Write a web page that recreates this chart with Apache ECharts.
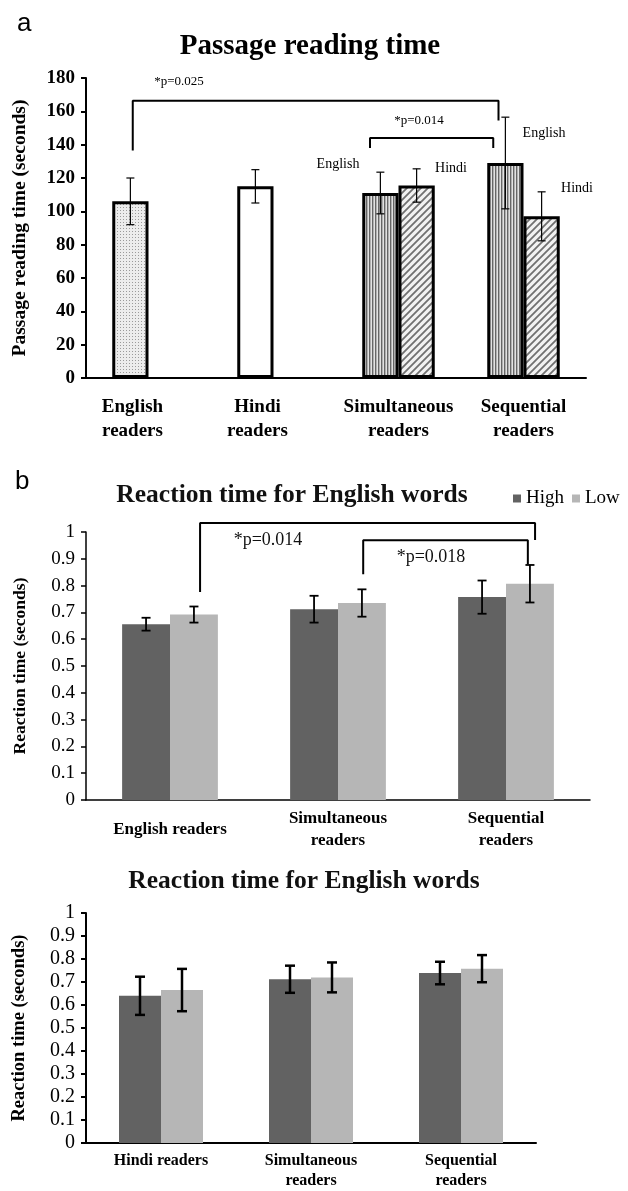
<!DOCTYPE html>
<html>
<head>
<meta charset="utf-8">
<script src="https://cdn.jsdelivr.net/npm/echarts@6/dist/echarts.min.js"></script>
<style>
  html, body { margin: 0; padding: 0; background: #fff; }
  #main { width: 628px; height: 1191px; }
</style>
</head>
<body>
<div id="main"></div>
<script>
// ---- panel a: passage reading time (seconds)
const groupsA = ['English\nreaders', 'Hindi\nreaders', 'Simultaneous\nreaders', 'Sequential\nreaders'];
const firstA = [106, 115, 111, 129];      // English text (or the group's only text)
const firstErrA = [14, 10, 12.5, 27.5];
const hindiA = [null, null, 115.5, 97];
const hindiErrA = [null, null, 10, 14.7];

// ---- panel b (top): reaction time, English readers vs bilinguals
const groupsB1 = ['English readers', 'Simultaneous\nreaders', 'Sequential\nreaders'];
const highB1 = [0.656, 0.712, 0.757];
const highErrB1 = [0.024, 0.05, 0.062];
const lowB1 = [0.692, 0.735, 0.807];
const lowErrB1 = [0.03, 0.051, 0.07];

// ---- panel b (bottom): reaction time, Hindi readers vs bilinguals
const groupsB2 = ['Hindi readers', 'Simultaneous\nreaders', 'Sequential\nreaders'];
const highB2 = [0.64, 0.712, 0.739];
const highErrB2 = [0.083, 0.059, 0.049];
const lowB2 = [0.665, 0.72, 0.758];
const lowErrB2 = [0.092, 0.065, 0.059];

// significance brackets: [xLeft, xRight (category units), yTop, yLeftEnd, yRightEnd]
const bracketsA = [
    [0.374, 3.30, 166.4, 136.5, 154.5],
    [2.272, 3.258, 144, 138, 138]
];
const bracketsB1 = [
    [0.679, 2.673, 1.034, 0.776, 0.97],
    [1.65, 2.63, 0.969, 0.842, 0.88]
];

const serif = 'Liberation Serif';

// fill patterns for panel a
function makePattern(w, h, draw) {
    const c = document.createElement('canvas');
    c.width = w; c.height = h;
    draw(c.getContext('2d'));
    return { image: c, repeat: 'repeat' };
}
const dotFill = makePattern(3, 3, (ctx) => {
    ctx.fillStyle = '#ececec'; ctx.fillRect(0, 0, 3, 3);
    ctx.fillStyle = '#9a9a9a'; ctx.fillRect(0, 0, 1, 1);
});
const stripeFill = makePattern(3, 4, (ctx) => {
    ctx.fillStyle = '#e2e2e2'; ctx.fillRect(0, 0, 3, 4);
    ctx.fillStyle = '#666666'; ctx.fillRect(0, 0, 1.4, 4);
});
const hatchFill = makePattern(7, 7, (ctx) => {
    ctx.fillStyle = '#f2f2f2'; ctx.fillRect(0, 0, 7, 7);
    ctx.strokeStyle = '#707070'; ctx.lineWidth = 1.8;
    ctx.beginPath();
    ctx.moveTo(-1, 8); ctx.lineTo(8, -1);
    ctx.moveTo(-4, 4); ctx.lineTo(4, -4);
    ctx.moveTo(3, 11); ctx.lineTo(11, 3);
    ctx.stroke();
});
const firstFills = [dotFill, '#ffffff', stripeFill, stripeFill];

// error bars drawn at the bar slot (0 = left, 1 = right) of a 2-bar cluster
function errorBars(axis, means, errs, slot, gap, capHalf, lw) {
    const data = [];
    means.forEach((m, i) => {
        if (m != null) data.push([i, m - errs[i], m + errs[i]]);
    });
    return {
        type: 'custom',
        xAxisIndex: axis,
        yAxisIndex: axis,
        z: 5,
        silent: true,
        data: data,
        renderItem: function (params, api) {
            const lo = api.coord([api.value(0), api.value(1)]);
            const hi = api.coord([api.value(0), api.value(2)]);
            const bw = api.size([1, 0])[0] * (1 - gap) / 2;
            const x = lo[0] + (slot - 0.5) * bw;
            const st = { stroke: '#000', lineWidth: lw };
            return {
                type: 'group',
                children: [
                    { type: 'line', shape: { x1: x, y1: lo[1], x2: x, y2: hi[1] }, style: st },
                    { type: 'line', shape: { x1: x - capHalf, y1: lo[1], x2: x + capHalf, y2: lo[1] }, style: st },
                    { type: 'line', shape: { x1: x - capHalf, y1: hi[1], x2: x + capHalf, y2: hi[1] }, style: st }
                ]
            };
        }
    };
}

function bracketSeries(xAxis, yAxis, b) {
    return {
        type: 'line',
        xAxisIndex: xAxis,
        yAxisIndex: yAxis,
        data: [[b[0], b[3]], [b[0], b[2]], [b[1], b[2]], [b[1], b[4]]],
        symbol: 'none',
        clip: false,
        silent: true,
        lineStyle: { color: '#000', width: 2 },
        z: 6
    };
}

function catAxis(grid, data, lw, fontSize, lineHeight, margin, valign) {
    return {
        type: 'category',
        gridIndex: grid,
        data: data,
        axisLine: { lineStyle: { color: '#000', width: lw } },
        axisTick: { length: 6, lineStyle: { color: '#000', width: lw } },
        axisLabel: {
            interval: 0,
            color: '#000', fontFamily: serif, fontWeight: 'bold',
            fontSize: fontSize, lineHeight: lineHeight, margin: margin,
            verticalAlign: valign
        }
    };
}

function valAxis(grid, max, interval, name, nameSize, labelSize, labelWeight, lw, nameGap) {
    return {
        type: 'value',
        gridIndex: grid,
        min: 0, max: max, interval: interval,
        name: name,
        nameLocation: 'middle',
        nameGap: nameGap,
        nameTextStyle: { color: '#000', fontFamily: serif, fontWeight: 'bold', fontSize: nameSize },
        splitLine: { show: false },
        axisLine: { show: true, lineStyle: { color: '#000', width: lw } },
        axisTick: { show: true, length: 5, lineStyle: { color: '#000', width: lw } },
        axisLabel: { color: '#000', fontFamily: serif, fontSize: labelSize, fontWeight: labelWeight, margin: 11 }
    };
}

const chartDom = document.getElementById('main');
const myChart = echarts.init(chartDom, null, { renderer: 'canvas' });

const gapA = 0.42, gapB1 = 0.43, gapB2 = 0.44;

// the two single-bar groups of panel a carry their label under the bar
const xAxisA = catAxis(0, groupsA, 2, 19, 24, 17, 'top');
xAxisA.data = groupsA.map((g, i) => i < 2
    ? { value: g, textStyle: { padding: [0, 32, 0, 0] } }
    : g);

const option = {
    animation: false,
    backgroundColor: '#fff',
    title: [
        { text: 'a', left: 12, top: 6, textStyle: { fontFamily: 'Liberation Sans', fontSize: 26, fontWeight: 'normal', color: '#000' } },
        { text: 'Passage reading time', left: 305, top: 27, textAlign: 'center',
          textStyle: { fontFamily: serif, fontSize: 29, fontWeight: 'bold', color: '#000' } },
        { text: 'b', left: 10, top: 464, textStyle: { fontFamily: 'Liberation Sans', fontSize: 26, fontWeight: 'normal', color: '#000' } },
        { text: 'Reaction time for English words', left: 287, top: 477, textAlign: 'center',
          textStyle: { fontFamily: serif, fontSize: 25.5, fontWeight: 'bold', color: '#111' } },
        { text: 'Reaction time for English words', left: 299, top: 863, textAlign: 'center',
          textStyle: { fontFamily: serif, fontSize: 25.5, fontWeight: 'bold', color: '#111' } }
    ],
    legend: {
        data: ['High', 'Low'],
        left: 508, top: 484,
        icon: 'rect', itemWidth: 8, itemHeight: 8, itemGap: 8,
        selectedMode: false,
        textStyle: { fontFamily: serif, fontSize: 19, color: '#000' }
    },
    grid: [
        { left: 86, top: 78, width: 500, height: 300 },
        { left: 86, top: 532, width: 504, height: 268 },
        { left: 86, top: 913, width: 450, height: 234 }
    ],
    xAxis: [
        xAxisA,
        catAxis(1, groupsB1, 1.5, 17, 22, 30, 'middle'),
        catAxis(2, groupsB2, 2, 16, 20, 8, 'top'),
        { type: 'value', gridIndex: 0, min: 0, max: 4, show: false },
        { type: 'value', gridIndex: 1, min: 0, max: 3, show: false }
    ],
    yAxis: [
        valAxis(0, 180, 20, 'Passage reading time (seconds)', 19.5, 19, 'bold', 2, 56),
        valAxis(1, 1, 0.1, 'Reaction time (seconds)', 17.5, 19, 'normal', 1.5, 57),
        valAxis(2, 1, 0.1, 'Reaction time (seconds)', 18.5, 20, 'normal', 2, 57)
    ],
    graphic: [
        { type: 'text', x: 179, y: 82, style: { text: '*p=0.025', font: '13px ' + serif, fill: '#000', align: 'center', verticalAlign: 'middle' } },
        { type: 'text', x: 419, y: 121, style: { text: '*p=0.014', font: '13px ' + serif, fill: '#000', align: 'center', verticalAlign: 'middle' } },
        { type: 'text', x: 338, y: 164, style: { text: 'English', font: '14px ' + serif, fill: '#000', align: 'center', verticalAlign: 'middle' } },
        { type: 'text', x: 451, y: 168, style: { text: 'Hindi', font: '14px ' + serif, fill: '#000', align: 'center', verticalAlign: 'middle' } },
        { type: 'text', x: 544, y: 133, style: { text: 'English', font: '14px ' + serif, fill: '#000', align: 'center', verticalAlign: 'middle' } },
        { type: 'text', x: 577, y: 188, style: { text: 'Hindi', font: '14px ' + serif, fill: '#000', align: 'center', verticalAlign: 'middle' } },
        { type: 'text', x: 268, y: 540, style: { text: '*p=0.014', font: '18px ' + serif, fill: '#111', align: 'center', verticalAlign: 'middle' } },
        { type: 'text', x: 431, y: 557, style: { text: '*p=0.018', font: '18px ' + serif, fill: '#111', align: 'center', verticalAlign: 'middle' } }
    ],
    series: [
        {
            name: 'English', type: 'bar', xAxisIndex: 0, yAxisIndex: 0,
            barGap: 0, barCategoryGap: (gapA * 100) + '%',
            itemStyle: { borderColor: '#000', borderWidth: 3 },
            data: firstA.map((v, i) => ({ value: v, itemStyle: { color: firstFills[i] } }))
        },
        {
            name: 'Hindi', type: 'bar', xAxisIndex: 0, yAxisIndex: 0,
            barGap: 0, barCategoryGap: (gapA * 100) + '%',
            itemStyle: { color: hatchFill, borderColor: '#000', borderWidth: 3 },
            data: hindiA
        },
        errorBars(0, firstA, firstErrA, 0, gapA, 4, 1.2),
        errorBars(0, hindiA, hindiErrA, 1, gapA, 4, 1.2),
        bracketSeries(3, 0, bracketsA[0]),
        bracketSeries(3, 0, bracketsA[1]),

        {
            name: 'High', type: 'bar', xAxisIndex: 1, yAxisIndex: 1,
            barGap: 0, barCategoryGap: (gapB1 * 100) + '%',
            itemStyle: { color: '#626262' }, data: highB1
        },
        {
            name: 'Low', type: 'bar', xAxisIndex: 1, yAxisIndex: 1,
            barGap: 0, barCategoryGap: (gapB1 * 100) + '%',
            itemStyle: { color: '#b6b6b6' }, data: lowB1
        },
        errorBars(1, highB1, highErrB1, 0, gapB1, 4.5, 1.8),
        errorBars(1, lowB1, lowErrB1, 1, gapB1, 4.5, 1.8),
        bracketSeries(4, 1, bracketsB1[0]),
        bracketSeries(4, 1, bracketsB1[1]),

        {
            name: 'High', type: 'bar', xAxisIndex: 2, yAxisIndex: 2,
            barGap: 0, barCategoryGap: (gapB2 * 100) + '%',
            itemStyle: { color: '#626262' }, data: highB2
        },
        {
            name: 'Low', type: 'bar', xAxisIndex: 2, yAxisIndex: 2,
            barGap: 0, barCategoryGap: (gapB2 * 100) + '%',
            itemStyle: { color: '#b6b6b6' }, data: lowB2
        },
        errorBars(2, highB2, highErrB2, 0, gapB2, 5, 2.5),
        errorBars(2, lowB2, lowErrB2, 1, gapB2, 5, 2.5)
    ]
};

myChart.setOption(option);
</script>
</body>
</html>
